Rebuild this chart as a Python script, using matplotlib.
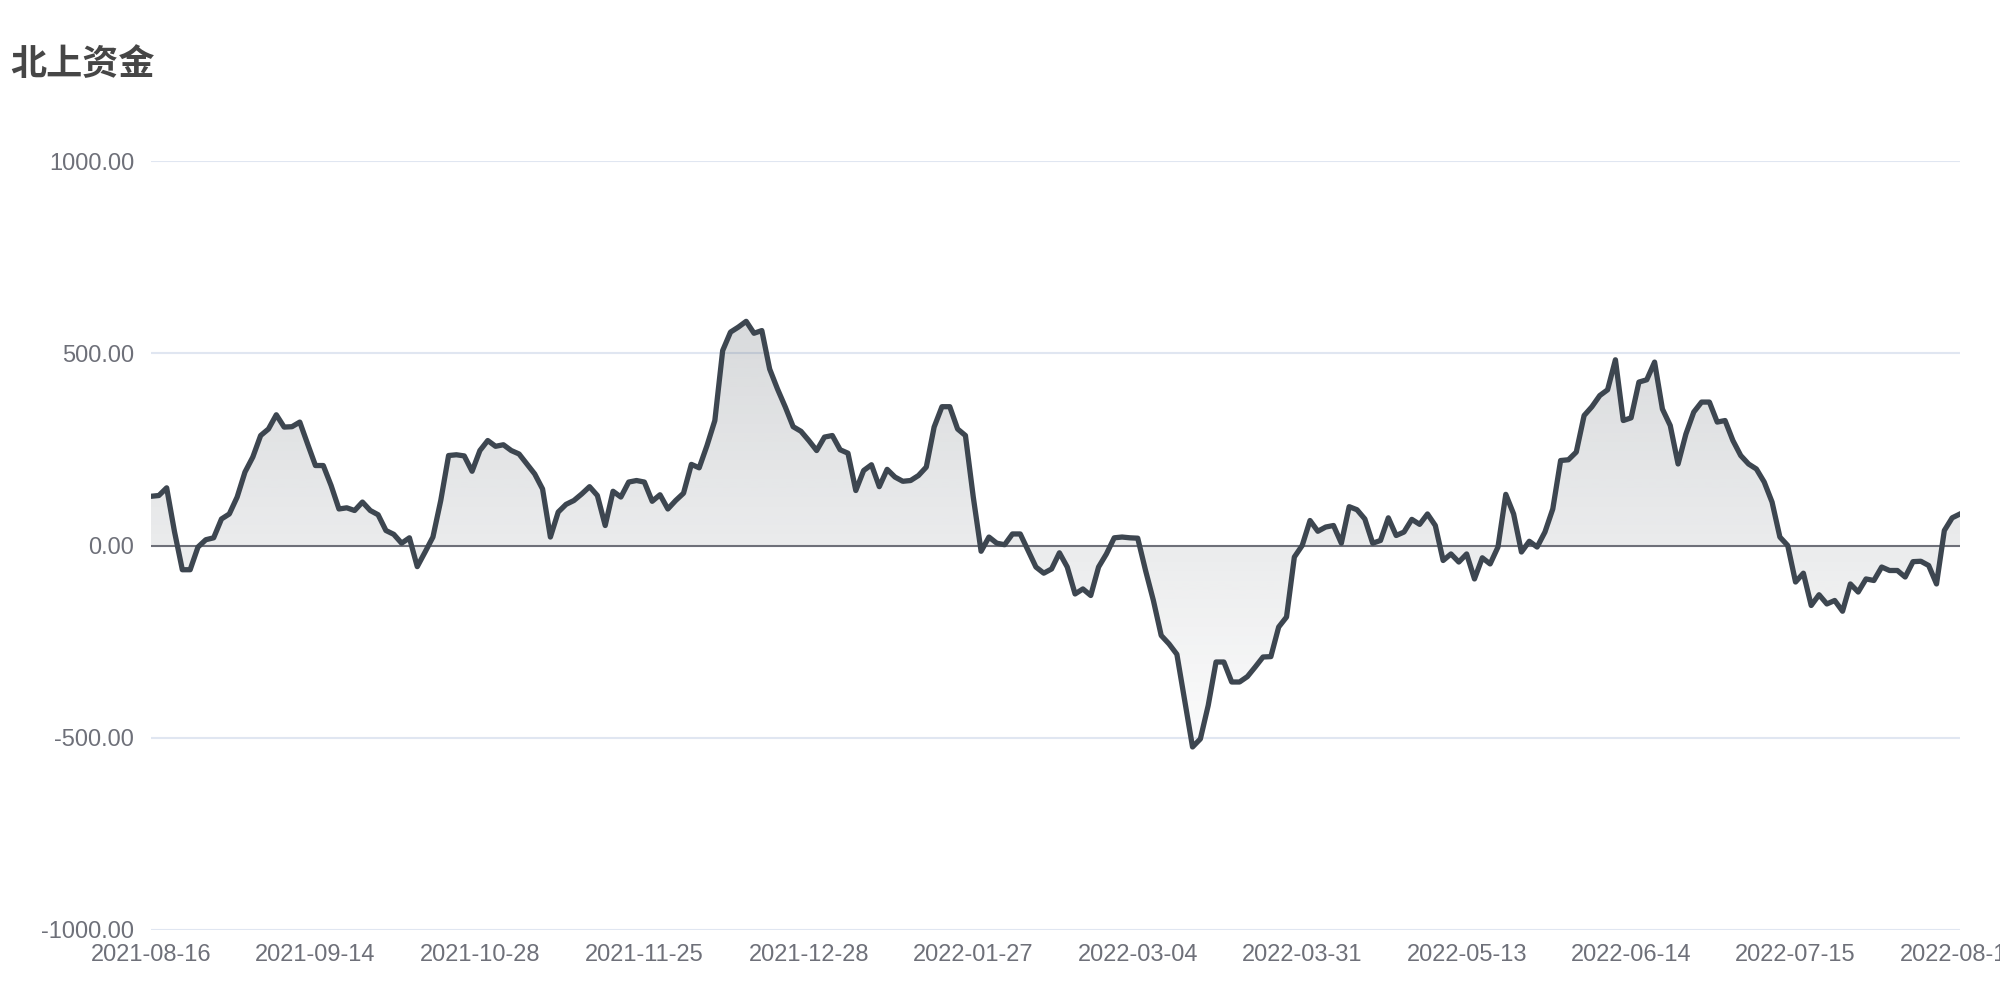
import numpy as np
import matplotlib
matplotlib.use("Agg")
import matplotlib.pyplot as plt

plt.rcParams['font.family'] = ['Liberation Sans', 'Noto Sans CJK SC', 'DejaVu Sans']

title = "北上资金"

# 北上资金 series, one value per trading day
values = [
    128, 130, 150, 36, -63, -63, -4, 15, 20, 69,
    82, 126, 191, 230, 286, 303, 340, 308, 309, 321,
    264, 208, 208, 156, 95, 98, 91, 113, 91, 80,
    39, 29, 6, 20, -55, -17, 22, 117, 234, 236,
    233, 193, 247, 273, 258, 262, 247, 238, 212, 186,
    147, 22, 87, 107, 117, 134, 153, 130, 52, 141,
    126, 165, 169, 165, 115, 132, 95, 117, 136, 211,
    202, 260, 325, 507, 555, 568, 583, 552, 559, 459,
    407, 360, 309, 297, 273, 247, 282, 286, 249, 240,
    143, 195, 210, 153, 198, 178, 167, 169, 182, 204,
    308, 361, 361, 303, 286, 126, -15, 22, 6, 2,
    30, 30, -13, -56, -72, -61, -19, -56, -126, -113,
    -130, -56, -22, 20, 22, 20, 19, -65, -143, -234,
    -256, -283, -403, -524, -503, -416, -303, -303, -355, -355,
    -341, -316, -290, -289, -212, -186, -30, 0, 65, 37,
    48, 52, 6, 101, 93, 69, 6, 13, 72, 26,
    35, 68, 55, 82, 52, -39, -22, -43, -22, -87,
    -32, -48, -4, 133, 82, -17, 11, -4, 35, 95,
    221, 223, 243, 338, 361, 390, 405, 483, 325, 332,
    425, 431, 477, 355, 312, 212, 290, 347, 373, 373,
    321, 325, 273, 234, 212, 199, 165, 113, 22, 0,
    -95, -72, -156, -128, -152, -143, -171, -100, -121, -87,
    -91, -56, -65, -65, -82, -42, -41, -52, -100, 39,
    72, 82,
]

tick_labels = ['2021-08-16', '2021-09-14', '2021-10-28', '2021-11-25',
               '2021-12-28', '2022-01-27', '2022-03-04', '2022-03-31',
               '2022-05-13', '2022-06-14', '2022-07-15', '2022-08-15']
y_ticks = [-1000, -500, 0, 500, 1000]

line_color = '#3d4650'
label_color = '#6e7079'
grid_color = '#e0e6f1'

x = np.arange(len(values))
y = np.array(values, dtype=float)

fig = plt.figure(figsize=(20, 10), dpi=100)
ax = fig.add_axes([0.0755, 0.07, 0.9045, 0.769])

# gradient area between line and zero
fill = ax.fill_between(x, y, 0, color='none', lw=0)
grad = np.linspace(0.2, 0.02, 256).reshape(-1, 1)
rgba = np.zeros((256, 1, 4))
rgba[..., :3] = matplotlib.colors.to_rgb(line_color)
rgba[..., 3] = grad
im = ax.imshow(rgba, aspect='auto', extent=[0, len(values) - 1, y.min(), y.max()],
               origin='upper', zorder=1, interpolation='bilinear')
im.set_clip_path(fill.get_paths()[0], transform=ax.transData)

ax.plot(x, y, color=line_color, lw=3.8, zorder=3, solid_joinstyle='round')

for v in y_ticks:
    if v == 0:
        ax.axhline(0, color=label_color, lw=1.5, zorder=2)
    else:
        ax.axhline(v, color=grid_color, lw=1.5, zorder=0)

ax.set_xlim(0, len(values) - 1)
ax.set_ylim(-1000, 1000)
ax.set_yticks(y_ticks)
ax.set_yticklabels([f"{v:.2f}" for v in y_ticks])
ax.set_xticks(np.arange(0, len(values), 21))
ax.set_xticklabels(tick_labels)
ax.tick_params(axis='both', length=0, labelsize=17, labelcolor=label_color)
ax.tick_params(axis='y', pad=12)
ax.tick_params(axis='x', pad=10)
for s in ax.spines.values():
    s.set_visible(False)

fig.text(0.005, 0.936, title, fontsize=26, fontweight='bold', color='#464646',
         family=['Noto Sans CJK SC', 'DejaVu Sans'], va='center', ha='left')

fig.savefig('out.png', dpi=100)
